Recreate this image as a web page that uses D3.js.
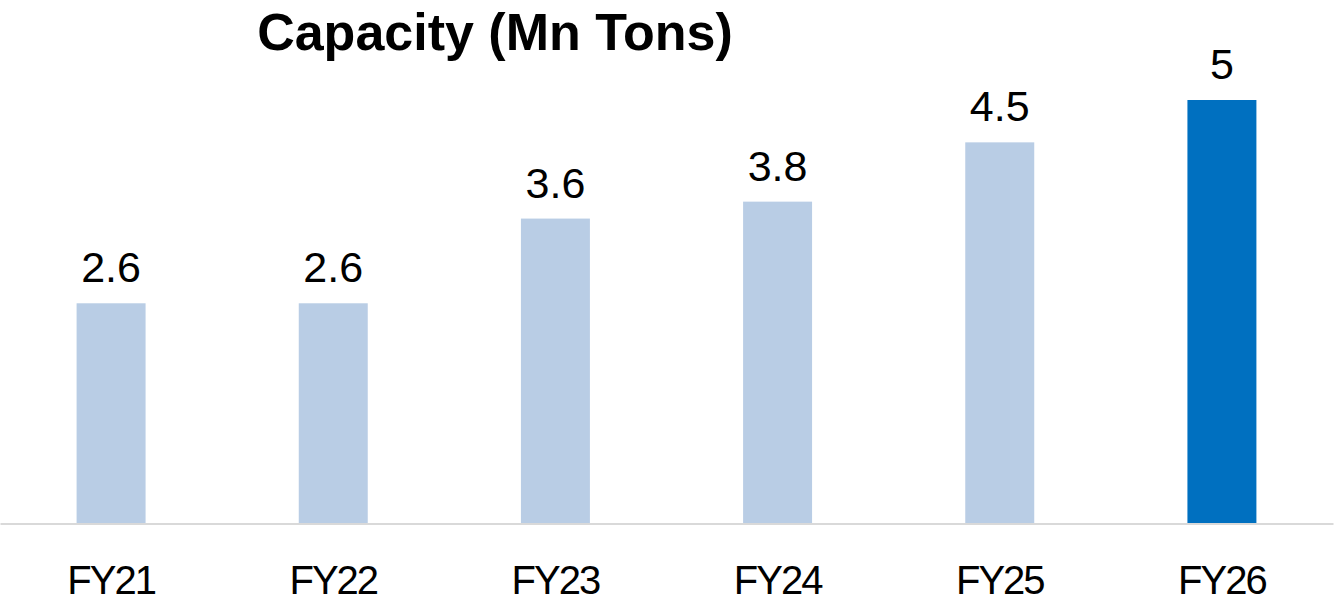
<!DOCTYPE html>
<html>
<head>
<meta charset="utf-8">
<script src="https://cdn.jsdelivr.net/npm/d3@7"></script>
<style>
  html, body { margin: 0; padding: 0; background: #ffffff; }
  svg { display: block; }
</style>
</head>
<body>
<svg id="chart" width="1344" height="605"></svg>
<script>
const categories = ["FY21", "FY22", "FY23", "FY24", "FY25", "FY26"];
const values = [2.6, 2.6, 3.6, 3.8, 4.5, 5];
const valueLabels = ["2.6", "2.6", "3.6", "3.8", "4.5", "5"];
const barColors = ["#B9CDE5", "#B9CDE5", "#B9CDE5", "#B9CDE5", "#B9CDE5", "#0070C0"];
const title = "Capacity (Mn Tons)";

const svg = d3.select("#chart");
const fontFamily = "'Liberation Sans', Arial, sans-serif";

const x = d3.scaleBand()
  .domain(categories)
  .range([0, 1333])
  .paddingInner(0.6895)
  .paddingOuter(0.34475);

const y = d3.scaleLinear()
  .domain([0, 5])
  .range([523.5, 100]);

// Bars
svg.append("g")
  .selectAll("rect")
  .data(categories)
  .join("rect")
  .attr("x", d => x(d))
  .attr("width", x.bandwidth())
  .attr("y", (d, i) => y(values[i]))
  .attr("height", (d, i) => y(0) - y(values[i]))
  .attr("fill", (d, i) => barColors[i]);

// Axis
const axis = svg.append("g")
  .attr("transform", `translate(0,${y(0)})`)
  .call(d3.axisBottom(x).tickSize(0).tickSizeOuter(0).tickPadding(0));
axis.select(".domain")
  .attr("stroke", "#D9D9D9")
  .attr("stroke-width", 2);
axis.selectAll(".tick text")
  .attr("dy", null)
  .attr("y", 70)
  .attr("font-family", fontFamily)
  .attr("font-size", 40)
  .attr("letter-spacing", "-2px")
  .attr("fill", "#000000");

// Value labels
svg.append("g")
  .selectAll("text")
  .data(categories)
  .join("text")
  .attr("x", d => x(d) + x.bandwidth() / 2)
  .attr("y", (d, i) => y(values[i]) - 21)
  .attr("text-anchor", "middle")
  .attr("font-family", fontFamily)
  .attr("font-size", 43)
  .attr("fill", "#000000")
  .text((d, i) => valueLabels[i]);

// Title
svg.append("text")
  .attr("x", 495)
  .attr("y", 50)
  .attr("text-anchor", "middle")
  .attr("font-family", fontFamily)
  .attr("font-weight", "bold")
  .attr("font-size", 52)
  .attr("fill", "#000000")
  .text(title);
</script>
</body>
</html>
